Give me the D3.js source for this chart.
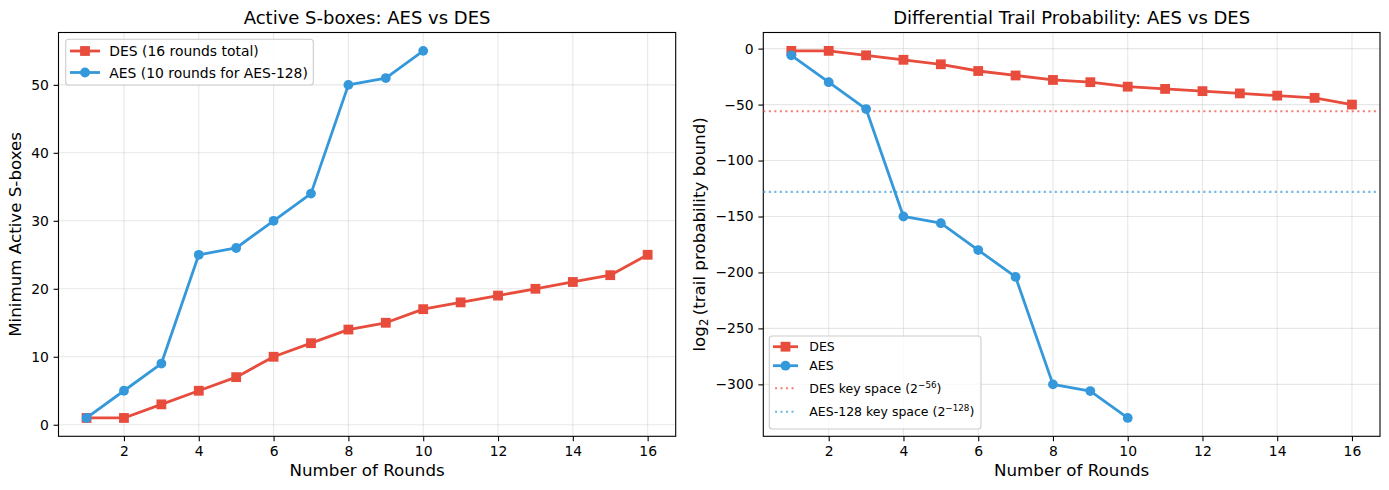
<!DOCTYPE html>
<html>
<head>
<meta charset="utf-8">
<script src="https://cdn.jsdelivr.net/npm/d3@7"></script>
<style>
  body { margin: 0; background: #fff; }
  svg text { font-family: "DejaVu Sans", sans-serif; fill: #000; }
</style>
</head>
<body>
<script>
// rounds and minimum active S-boxes for each cipher
var desRounds = [1, 2, 3, 4, 5, 6, 7, 8, 9, 10, 11, 12, 13, 14, 15, 16];
var desActive = [1, 1, 3, 5, 7, 10, 12, 14, 15, 17, 18, 19, 20, 21, 22, 25];
var aesRounds = [1, 2, 3, 4, 5, 6, 7, 8, 9, 10];
var aesActive = [1, 5, 9, 25, 26, 30, 34, 50, 51, 55];

// log2 of the trail probability bound
var desLogProb = [-2, -2, -6, -10, -14, -20, -24, -28, -30, -34, -36, -38, -40, -42, -44, -50];
var aesLogProb = [-6, -30, -54, -150, -156, -180, -204, -300, -306, -330];

// key space reference lines
var desKeyLine = -56;
var aesKeyLine = -128;

// tick labels
var xTicks = [2, 4, 6, 8, 10, 12, 14, 16];
var leftYTicks = [0, 10, 20, 30, 40, 50];
var rightYTicks = [0, -50, -100, -150, -200, -250, -300];

var RED = "#e74c3c", BLUE = "#3498db";

var svg = d3.select("body").append("svg")
    .attr("width", 1389)
    .attr("height", 490);

var plotTop = 32.5, plotBottom = 436.3;

// draws one panel and returns its scales
function panel(left, right, yDomain, yTicks, title) {
    var x = d3.scaleLinear().domain([0.25, 16.75]).range([left, right]);
    var y = d3.scaleLinear().domain(yDomain).range([plotBottom, plotTop]);
    var g = svg.append("g");

    // grid
    g.append("g").selectAll("line").data(xTicks).enter().append("line")
        .attr("x1", function(d) { return x(d); }).attr("x2", function(d) { return x(d); })
        .attr("y1", plotTop).attr("y2", plotBottom)
        .attr("stroke", "#b0b0b0").attr("stroke-opacity", 0.3).attr("stroke-width", 1.1);
    g.append("g").selectAll("line").data(yTicks).enter().append("line")
        .attr("y1", function(d) { return y(d); }).attr("y2", function(d) { return y(d); })
        .attr("x1", left).attr("x2", right)
        .attr("stroke", "#b0b0b0").attr("stroke-opacity", 0.3).attr("stroke-width", 1.1);

    // axes
    var xa = g.append("g").attr("transform", "translate(0," + plotBottom + ")")
        .call(d3.axisBottom(x).tickValues(xTicks).tickSize(4.9).tickPadding(4.8));
    var ya = g.append("g").attr("transform", "translate(" + left + ",0)")
        .call(d3.axisLeft(y).tickValues(yTicks).tickSize(4.9).tickPadding(4.8)
            .tickFormat(function(d) { return d < 0 ? "\u2212" + Math.abs(d) : d; }));
    [xa, ya].forEach(function(a) {
        a.select(".domain").remove();
        a.selectAll("line").attr("stroke", "#000").attr("stroke-width", 1.1);
        a.selectAll("text").style("font-size", "13.9px").style("font-family", "DejaVu Sans");
    });

    // frame
    g.append("rect").attr("x", left).attr("y", plotTop)
        .attr("width", right - left).attr("height", plotBottom - plotTop)
        .attr("fill", "none").attr("stroke", "#000").attr("stroke-width", 1.1);

    g.append("text").attr("x", (left + right) / 2).attr("y", 24)
        .attr("text-anchor", "middle").style("font-size", "18px").text(title);
    g.append("text").attr("x", (left + right) / 2).attr("y", 476)
        .attr("text-anchor", "middle").style("font-size", "16.7px").text("Number of Rounds");

    return {x: x, y: y, g: g};
}

function series(p, xs, ys, color, marker) {
    var pts = xs.map(function(d, i) { return [d, ys[i]]; });
    var line = d3.line().x(function(d) { return p.x(d[0]); }).y(function(d) { return p.y(d[1]); });
    p.g.append("path").datum(pts).attr("d", line)
        .attr("fill", "none").attr("stroke", color).attr("stroke-width", 2.8)
        .attr("stroke-linejoin", "round");
    drawMarkers(p.g, pts.map(function(d) { return [p.x(d[0]), p.y(d[1])]; }), color, marker);
}

function drawMarkers(g, pts, color, marker) {
    if (marker === "square") {
        g.append("g").selectAll("rect").data(pts).enter().append("rect")
            .attr("x", function(d) { return d[0] - 4.9; }).attr("y", function(d) { return d[1] - 4.9; })
            .attr("width", 9.8).attr("height", 9.8).attr("fill", color);
    } else {
        g.append("g").selectAll("circle").data(pts).enter().append("circle")
            .attr("cx", function(d) { return d[0]; }).attr("cy", function(d) { return d[1]; })
            .attr("r", 4.9).attr("fill", color);
    }
}

// ---------- left panel ----------
var L = panel(58.5, 675.7, [-1.7, 57.7], leftYTicks, "Active S-boxes: AES vs DES");
series(L, desRounds, desActive, RED, "square");
series(L, aesRounds, aesActive, BLUE, "circle");

svg.append("text")
    .attr("transform", "translate(21," + ((plotTop + plotBottom) / 2) + ")rotate(-90)")
    .attr("text-anchor", "middle").style("font-size", "16.7px")
    .text("Minimum Active S-boxes");

// ---------- right panel ----------
var R = panel(763.3, 1380, [-346.4, 14.4], rightYTicks, "Differential Trail Probability: AES vs DES");

[[desKeyLine, RED], [aesKeyLine, BLUE]].forEach(function(k) {
    R.g.append("line").attr("x1", 763.3).attr("x2", 1380)
        .attr("y1", R.y(k[0])).attr("y2", R.y(k[0]))
        .attr("stroke", k[1]).attr("stroke-opacity", 0.7)
        .attr("stroke-width", 2.1).attr("stroke-dasharray", "2.1,3.4");
});
series(R, desRounds, desLogProb, RED, "square");
series(R, aesRounds, aesLogProb, BLUE, "circle");

var yl = svg.append("text")
    .attr("transform", "translate(705," + ((plotTop + plotBottom) / 2) + ")rotate(-90)")
    .attr("text-anchor", "middle").style("font-size", "16.7px");
yl.append("tspan").text("log");
yl.append("tspan").attr("baseline-shift", "-25%").style("font-size", "11.7px").text("2");
yl.append("tspan").text("\u2009(trail probability bound)");

// ---------- legends ----------
function legend(box, rows, fontSize, hx0, hx1, tx) {
    svg.append("rect").attr("x", box[0]).attr("y", box[1])
        .attr("width", box[2]).attr("height", box[3]).attr("rx", 3)
        .attr("fill", "#fff").attr("fill-opacity", 0.8)
        .attr("stroke", "#ccc").attr("stroke-width", 1.1);
    rows.forEach(function(r) {
        if (r.dotted) {
            svg.append("line").attr("x1", hx0 + 2).attr("x2", hx1 - 2).attr("y1", r.y).attr("y2", r.y)
                .attr("stroke", r.color).attr("stroke-opacity", 0.7)
                .attr("stroke-width", 2.1).attr("stroke-dasharray", "2.1,3.4");
        } else {
            svg.append("line").attr("x1", hx0).attr("x2", hx1).attr("y1", r.y).attr("y2", r.y)
                .attr("stroke", r.color).attr("stroke-width", 2.8);
            drawMarkers(svg, [[(hx0 + hx1) / 2, r.y]], r.color, r.marker);
        }
        var t = svg.append("text").attr("x", tx).attr("y", r.y).attr("dy", "0.36em")
            .style("font-size", fontSize + "px");
        t.append("tspan").text(r.label);
        if (r.sup) {
            t.append("tspan").attr("baseline-shift", "super").style("font-size", (fontSize * 0.7) + "px").text(r.sup);
            t.append("tspan").text(")");
        }
    });
}

legend([65.7, 39.3, 247.6, 45.7], [
    {y: 51, color: RED, marker: "square", label: "DES (16 rounds total)"},
    {y: 72.5, color: BLUE, marker: "circle", label: "AES (10 rounds for AES-128)"}
], 13.9, 70, 100, 109.3);

legend([769.3, 336, 211.7, 93], [
    {y: 346.7, color: RED, marker: "square", label: "DES"},
    {y: 365.7, color: BLUE, marker: "circle", label: "AES"},
    {y: 388.3, color: RED, dotted: true, label: "DES key space (2", sup: "\u221256"},
    {y: 411.7, color: BLUE, dotted: true, label: "AES-128 key space (2", sup: "\u2212128"}
], 12.5, 773, 798, 809.3);
</script>
</body>
</html>
